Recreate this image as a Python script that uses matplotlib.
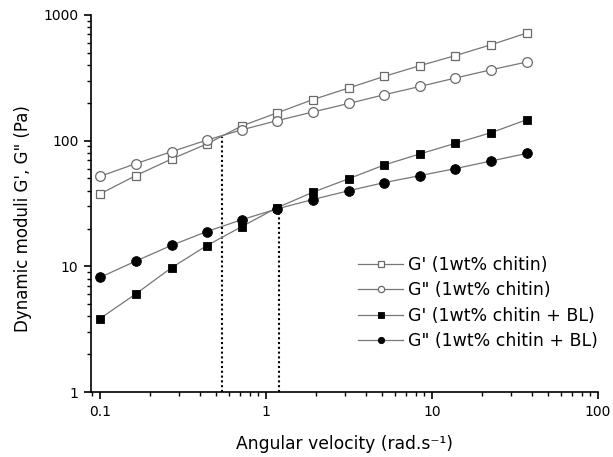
import matplotlib
matplotlib.use("Agg")
import matplotlib.pyplot as plt
from matplotlib.ticker import LogLocator, FixedLocator, FixedFormatter, NullFormatter

plt.rcParams['font.family'] = ['DejaVu Sans']

omega = [0.1, 0.164, 0.27, 0.439, 0.714, 1.16, 1.91, 3.16, 5.16, 8.45, 13.8, 22.8, 37.3]
g1_chitin = [37.7, 52.7, 71.5, 94, 131, 166, 212, 263, 325, 395, 475, 581, 719]
g2_chitin = [52, 65.6, 81.8, 101, 122, 144, 169, 198, 232, 270, 315, 367, 423]
g1_bl = [3.84, 6.03, 9.76, 14.6, 20.7, 29.2, 38.8, 49.9, 64.1, 78.4, 95.2, 116, 147]
g2_bl = [8.17, 11.0, 14.7, 18.9, 23.5, 28.6, 34.0, 40.0, 46.4, 52.7, 59.9, 69.0, 79.2]

cross_x = [0.54, 1.19]
cross_y = [107, 29]

labels = ["G' (1wt% chitin)", 'G" (1wt% chitin)', "G' (1wt% chitin + BL)", 'G" (1wt% chitin + BL)']
xticks = [0.1, 1, 10, 100]
xticklabels = ['0.1', '1', '10', '100']
yticks = [1, 10, 100, 1000]
yticklabels = ['1', '10', '100', '1000']

fig = plt.figure(figsize=(6.13, 4.57), dpi=100)
L, R, B, T = 91, 598, 392, 15
W, H = 613, 457
ax = fig.add_axes([L / W, 1 - B / H, (R - L) / W, (B - T) / H])

lc = '#777777'
ax.plot(omega, g1_chitin, '-', color=lc, lw=0.9, marker='s', ms=6.3, mfc='white', mec='#6a6a6a', mew=0.9, label=labels[0])
ax.plot(omega, g2_chitin, '-', color=lc, lw=0.9, marker='o', ms=7.0, mfc='white', mec='#6a6a6a', mew=0.9, label=labels[1])
ax.plot(omega, g1_bl, '-', color=lc, lw=0.9, marker='s', ms=6.3, mfc='black', mec='black', mew=0.6, label=labels[2])
ax.plot(omega, g2_bl, '-', color=lc, lw=0.9, marker='o', ms=7.0, mfc='black', mec='black', mew=0.6, label=labels[3])

for cx, cy in zip(cross_x, cross_y):
    ax.plot([cx, cx], [1, cy], color='black', lw=1.5, ls=(0, (1, 1.3)), zorder=1)

ax.set_xscale('log')
ax.set_yscale('log')
ax.set_xlim(0.0882, 100)
ax.set_ylim(1, 1000)

ax.xaxis.set_major_locator(FixedLocator(xticks))
ax.xaxis.set_major_formatter(FixedFormatter(xticklabels))
ax.yaxis.set_major_locator(FixedLocator(yticks))
ax.yaxis.set_major_formatter(FixedFormatter(yticklabels))
ax.xaxis.set_minor_locator(LogLocator(base=10, subs=range(2, 10)))
ax.yaxis.set_minor_locator(LogLocator(base=10, subs=range(2, 10)))
ax.xaxis.set_minor_formatter(NullFormatter())
ax.yaxis.set_minor_formatter(NullFormatter())

for s in ['top', 'right']:
    ax.spines[s].set_visible(False)
for s in ['left', 'bottom']:
    ax.spines[s].set_linewidth(1.2)
ax.tick_params(which='major', direction='out', length=5, width=1.2, labelsize=10, pad=4)
ax.tick_params(which='minor', direction='out', length=3, width=1.0)

ax.set_xlabel('Angular velocity (rad.s\u207b\u00b9)', fontsize=12.3, labelpad=12)
ax.set_ylabel("Dynamic moduli G', G\" (Pa)", fontsize=12)
ax.yaxis.set_label_coords(-0.116, 0.46)

leg = ax.legend(loc='upper left', bbox_to_anchor=((358 - L) / (R - L), (B - 256) / (B - T)),
                frameon=False, fontsize=12.5, handlelength=2.6, handletextpad=0.3,
                labelspacing=0.43, borderpad=0, borderaxespad=0, markerscale=0.65)

fig.savefig('out.png', dpi=100)
